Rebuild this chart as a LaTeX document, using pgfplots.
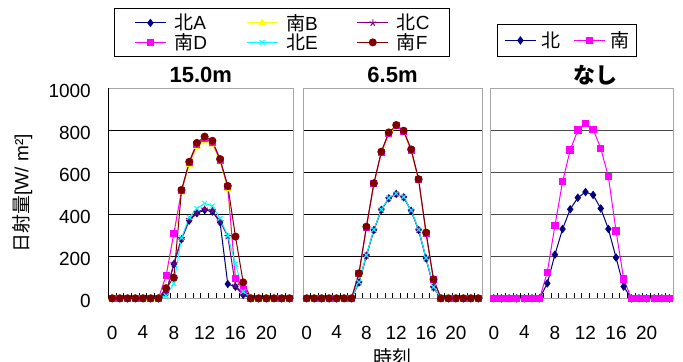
\documentclass[border=0pt]{standalone}
\usepackage{pgfplots}
\pgfplotsset{compat=1.18}
\usepackage{pgfplotstable}
\usepackage{fontspec}
\setmainfont{Liberation Sans}
\newfontfamily\cjk{Noto Sans CJK JP}
\newcommand{\J}[1]{{\cjk #1}}
\newcommand{\fs}{\fontsize{19bp}{21bp}\selectfont}
\newcommand{\ft}{\fontsize{22bp}{24bp}\selectfont\bfseries}
\definecolor{cA}{RGB}{0,0,128}
\definecolor{cB}{RGB}{255,255,0}
\definecolor{cC}{RGB}{128,0,128}
\definecolor{cD}{RGB}{255,0,255}
\definecolor{cE}{RGB}{0,255,255}
\definecolor{cF}{RGB}{128,0,0}

\pgfplotstableread{
h A B C D E F
0 0 0 0 0 0 0
1 0 0 0 0 0 0
2 0 0 0 0 0 0
3 0 0 0 0 0 0
4 0 0 0 0 0 0
5 0 0 0 0 0 0
6 0 0 0 0 0 0
7 24 100 26 108 12 48
8 163 300 165 309 71 98
9 281 505 284 512 288 516
10 370 635 375 645 385 650
11 405 722 410 733 428 740
12 420 750 425 762 452 770
13 413 733 417 743 440 750
14 362 650 366 658 381 663
15 68 520 295 530 298 535
16 55 88 60 95 163 294
17 16 35 22 40 32 76
18 0 0 0 0 0 0
19 0 0 0 0 0 0
20 0 0 0 0 0 0
21 0 0 0 0 0 0
22 0 0 0 0 0 0
23 0 0 0 0 0 0
}\tabA

\pgfplotstableread{
h A B C D E F
0 0 0 0 0 0 0
1 0 0 0 0 0 0
2 0 0 0 0 0 0
3 0 0 0 0 0 0
4 0 0 0 0 0 0
5 0 0 0 0 0 0
6 0 0 0 0 0 0
7 75 112 75 116 77 119
8 203 333 203 338 205 341
9 325 540 325 545 327 548
10 421 690 421 695 423 698
11 476 782 476 787 478 790
12 497 817 497 822 499 825
13 481 790 481 795 483 798
14 417 700 417 706 419 709
15 325 558 325 564 327 567
16 190 303 190 310 192 313
17 52 84 52 88 54 90
18 0 0 0 0 0 0
19 0 0 0 0 0 0
20 0 0 0 0 0 0
21 0 0 0 0 0 0
22 0 0 0 0 0 0
23 0 0 0 0 0 0
}\tabB

\pgfplotstableread{
h N S
0 0 0
1 0 0
2 0 0
3 0 0
4 0 0
5 0 0
6 0 0
7 71 124
8 208 346
9 330 555
10 424 706
11 479 801
12 506 832
13 492 805
14 428 714
15 330 579
16 194 321
17 56 92
18 0 0
19 0 0
20 0 0
21 0 0
22 0 0
23 0 0
}\tabC

\pgfplotsset{
 panel/.style={
  scale only axis, height=210bp,
  xmin=-0.5, xmax=23.5, ymin=0, ymax=1000,
  xtick={0,4,8,12,16,20},
  minor xtick={-0.5,0.5,...,23.5},
  major tick length=0pt, minor tick length=5bp, tick align=inside,
  xtick pos=left, ytick pos=left,
  ytick={0,200,400,600,800},
  ymajorgrids, major grid style={black, line width=0.8bp},
  axis line style={black!35, line width=0.8bp},
  tick style={black, line width=0.8bp},
  tick label style={font=\fs},
  /pgf/number format/assume math mode=true,
  /pgf/number format/1000 sep={},
  xticklabel style={yshift=-24bp},
  clip=false,
  legend image code/.code={\draw[mark repeat=2,mark phase=2] plot coordinates {(0bp,0bp) (15.5bp,0bp) (31bp,0bp)};},
 },
 sA/.style={color=cA, line width=1bp, mark=diamond*, mark size=3.4bp, mark options={solid}},
 sB/.style={color=cB, line width=1bp, mark=triangle*, mark size=3.4bp, mark options={solid}},
 sC/.style={color=cC, line width=1bp, mark=star, mark size=3.5bp, mark options={solid, line width=1bp}},
 sD/.style={color=cD, line width=1bp, mark=square*, mark size=3bp, mark options={solid}},
 sE/.style={color=cE, line width=1bp, mark=x, mark size=3.5bp, mark options={solid, line width=1bp}},
 sF/.style={color=cF, line width=1bp, mark=*, mark size=3.5bp, mark options={solid}},
}

\begin{document}
\begin{tikzpicture}
\useasboundingbox (0,0) rectangle (683bp,362bp);

% Panel 1
\begin{axis}[panel, at={(108.3bp,63.7bp)}, anchor=south west, width=185bp,
  extra y ticks={1000}, extra y tick style={grid=none},
  yticklabel style={xshift=-14bp, yshift=-3bp},
  ylabel={\J{日射量}[W/ m²]},
  ylabel style={font=\fs, at={(axis description cs:-0.465,0.5)}, anchor=center},
  title={15.0m}, title style={font=\ft, at={(axis description cs:0.5,1)}, anchor=center, yshift=7bp},
  legend columns=3, legend cell align=left,
  legend style={at={(axis description cs:0,1)}, anchor=north west, xshift=5.7bp, yshift=80bp,
    draw=black, line width=0.8bp, font=\fs, inner xsep=20bp, inner ysep=4.5bp, row sep=0bp,
    nodes={inner xsep=0bp, inner ysep=1bp},
    /tikz/every even column/.append style={column sep=39bp},
    /tikz/every odd column/.append style={column sep=8bp}},
]
\addplot[sA] table[x=h,y=A] {\tabA};
\addlegendentry{\J{北}A}
\addplot[sB] table[x=h,y=B] {\tabA};
\addlegendentry{\J{南}B}
\addplot[sC] table[x=h,y=C] {\tabA};
\addlegendentry{\J{北}C}
\addplot[sD] table[x=h,y=D] {\tabA};
\addlegendentry{\J{南}D}
\addplot[sE] table[x=h,y=E] {\tabA};
\addlegendentry{\J{北}E}
\addplot[sF] table[x=h,y=F] {\tabA};
\addlegendentry{\J{南}F}
\draw[black, line width=0.8bp] (axis description cs:0,0) -- (axis description cs:0,1);
\end{axis}

% Panel 2
\begin{axis}[panel, at={(303bp,63.7bp)}, anchor=south west, width=179bp,
  yticklabels={},
  xlabel={\J{時刻}},
  xlabel style={font=\fs, at={(axis description cs:0.5,0)}, anchor=center, yshift=-58.7bp},
  title={6.5m}, title style={font=\ft, at={(axis description cs:0.5,1)}, anchor=center, yshift=7bp},
]
\addplot[sA] table[x=h,y=A] {\tabB};
\addplot[sB] table[x=h,y=B] {\tabB};
\addplot[sC] table[x=h,y=C] {\tabB};
\addplot[sD] table[x=h,y=D] {\tabB};
\addplot[sE] table[x=h,y=E] {\tabB};
\addplot[sF] table[x=h,y=F] {\tabB};
\end{axis}

% Panel 3
\begin{axis}[panel, at={(490bp,63.7bp)}, anchor=south west, width=183.3bp,
  yticklabels={},
  major grid style={black!70, line width=0.8bp},
  title={\J{なし}}, title style={font=\ft, at={(axis description cs:0.5,1)}, anchor=center, yshift=7bp, xshift=14bp},
  legend columns=2, legend cell align=left,
  legend style={at={(axis description cs:0,1)}, anchor=north west, xshift=7bp, yshift=64bp,
    draw=black, line width=0.8bp, font=\fs, inner xsep=7bp, inner ysep=6bp,
    nodes={inner xsep=0bp, inner ysep=1bp},
    /tikz/every even column/.append style={column sep=13bp},
    /tikz/every odd column/.append style={column sep=5bp}},
]
\addplot[sA, mark size=3.5bp] table[x=h,y=N] {\tabC};
\addlegendentry{\J{北}}
\addplot[sD, mark size=3.2bp] table[x=h,y=S] {\tabC};
\addlegendentry{\J{南}}
\end{axis}
\end{tikzpicture}
\end{document}
